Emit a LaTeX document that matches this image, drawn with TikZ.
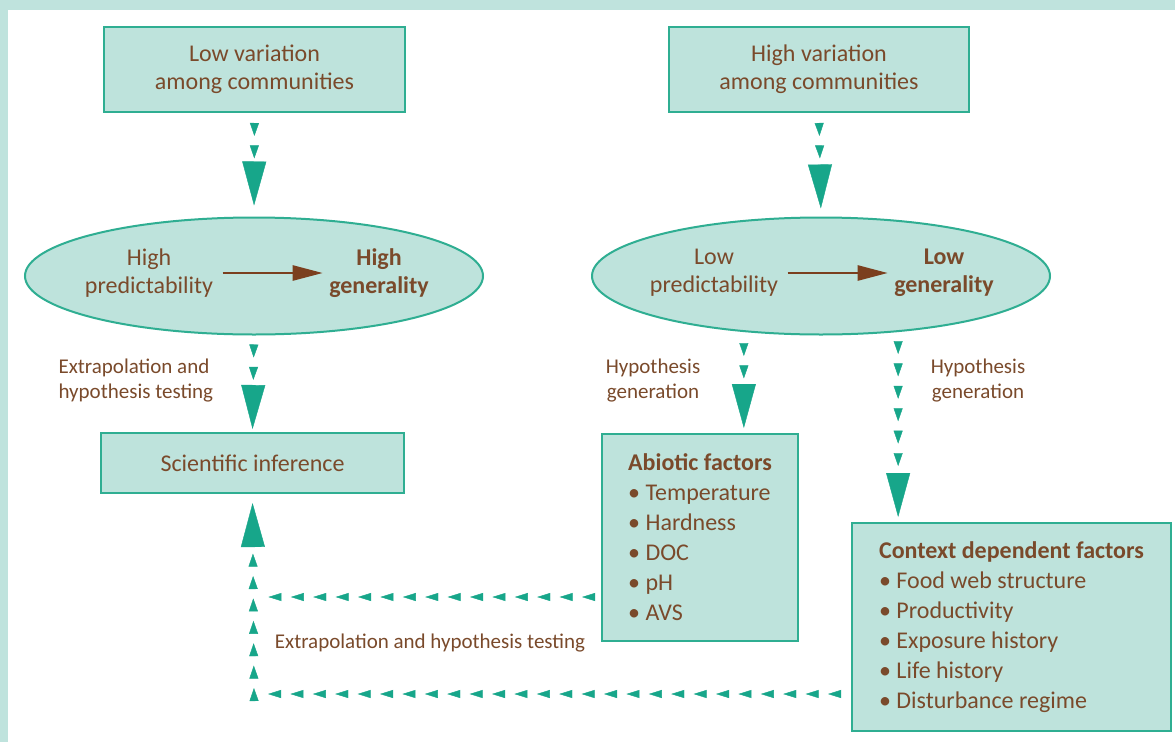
\documentclass[tikz,border=0pt]{standalone}
\usepackage{fontspec}
\setmainfont{Carlito}
\usetikzlibrary{shapes.geometric,arrows.meta,decorations.markings,calc}

\definecolor{bandteal}{HTML}{BFE3DD}
\definecolor{boxfill}{HTML}{BEE3DC}
\definecolor{boxline}{HTML}{2FAE92}
\definecolor{arrowteal}{HTML}{17A68A}
\definecolor{textbrown}{HTML}{7A4A2B}
\definecolor{arrowbrown}{HTML}{7B3F1E}

\tikzset{
  box/.style={draw=boxline, fill=boxfill, line width=2pt, align=center,
    text=textbrown, font=\fontsize{24}{28}\selectfont},
  factorbox/.style={box, align=left, anchor=north west, inner xsep=20pt,
    font=\fontsize{24}{30}\selectfont},
  oval/.style={ellipse, draw=boxline, fill=boxfill, line width=2pt,
    minimum width=458pt, minimum height=117pt},
  ovaltext/.style={align=center, text=textbrown,
    font=\fontsize{24}{28}\selectfont},
  note/.style={align=center, text=textbrown, font=\fontsize{21}{25}\selectfont},
  % dashed arrows built from small triangles and one big head
  tridash/.style 2 args={color=arrowteal, postaction={decorate},
    decoration={markings,
      mark=between positions #1 and -48pt step 22.4pt with
        {\arrow{Triangle[width=9pt,length=13pt]}},
      mark=at position -#2 with {\arrow{Triangle[width=24pt,length=44pt]}}}},
  tridots/.style={color=arrowteal, postaction={decorate},
    decoration={markings,
      mark=between positions #1 and 1 step 22.4pt with
        {\arrow{Triangle[width=8pt,length=13pt]}}}},
  brownarrow/.style={draw=arrowbrown, line width=2.5pt,
    -{Triangle[width=15pt,length=30pt]}, shorten <=6pt, shorten >=3pt}
}

\begin{document}
\begin{tikzpicture}[x=1pt, y=-1pt]
  % frame
  \fill[bandteal] (0,0) rectangle (1175,742);
  \fill[white] (8,10) rectangle (1175,742);

  % top boxes
  \node[box, minimum width=301pt, minimum height=85pt] (lowvar) at (254.5,69.5)
    {Low variation\\among communities};
  \node[box, minimum width=300pt, minimum height=85pt] (highvar) at (819,69.5)
    {High variation\\among communities};

  % ellipses
  \node[oval] (ovalL) at (254,276) {};
  \node[oval] (ovalR) at (821,276) {};
  \node[ovaltext] (hipred) at (149,273) {High\\predictability};
  \node[ovaltext, font=\fontsize{24}{28}\selectfont\bfseries] (higen) at (379,273)
    {High\\generality};
  \node[ovaltext] (lopred) at (714,273) {Low\\predictability};
  \node[ovaltext, font=\fontsize{24}{28}\selectfont\bfseries] (logen) at (944,273)
    {Low\\generality};
  \draw[brownarrow] (hipred) -- (higen);
  \draw[brownarrow] (lopred) -- (logen);

  % lower boxes
  \node[box, minimum width=303pt, minimum height=60pt] (sci) at (252.5,463)
    {Scientific inference};
  \node[factorbox, minimum width=196pt, minimum height=207pt] (abio) at (601,433)
    {\textbf{Abiotic factors}\\
     • Temperature\\
     • Hardness\\
     • DOC\\
     • pH\\
     • AVS};
  \node[factorbox, minimum width=319pt, minimum height=208pt] (ctx) at (851,522)
    {\textbf{Context dependent factors}\\
     • Food web structure\\
     • Productivity\\
     • Exposure history\\
     • Life history\\
     • Disturbance regime};

  % labels
  \node[note, align=left, anchor=west] (lblA) at (55,381)
    {Extrapolation and\\hypothesis testing};
  \node[note] (lblB) at (653,381) {Hypothesis\\generation};
  \node[note] (lblC) at (978,381) {Hypothesis\\generation};
  \node[note] (lblD) at (430,643) {Extrapolation and hypothesis testing};

  % downward connectors
  \path[tridash={23pt}{11pt}] (lowvar.south) -- (ovalL.north);
  \path[tridash={23pt}{8pt}] (highvar.south) -- (ovalR.north);
  \path[tridash={22pt}{3pt}] (ovalL.south) -- (sci.north);
  \path[tridash={24pt}{5pt}] (ovalR.216) -- (ovalR.216 |- abio.north);
  \path[tridash={22pt}{5pt}] (ovalR.324) -- (ovalR.324 |- ctx.north);

  % return connectors
  \coordinate (join) at (254,597);
  \coordinate (ret) at (254,694);
  \path[tridots=19pt] (abio.west |- join) -- (join);
  \path[tridots=23pt] (ctx.west |- ret) -- (ret);
  \path[tridash={6pt}{9pt}] (ret) -- (sci.south);
\end{tikzpicture}
\end{document}
